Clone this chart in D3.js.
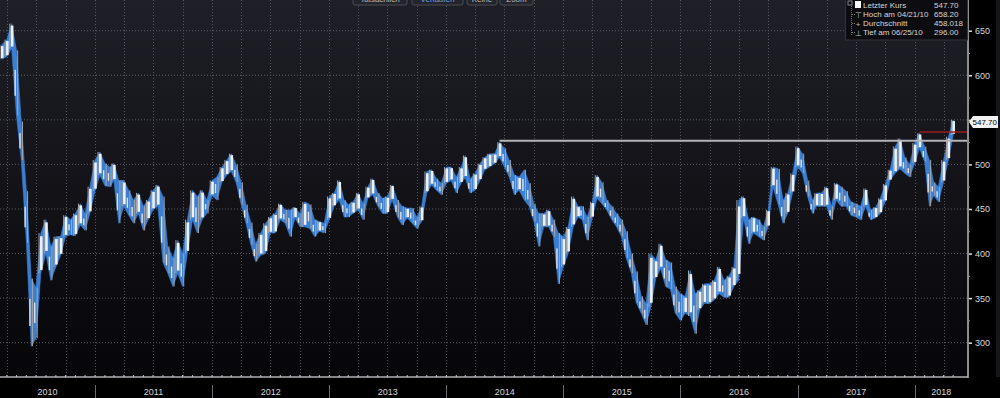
<!DOCTYPE html>
<html>
<head>
<meta charset="utf-8">
<script src="https://cdn.jsdelivr.net/npm/d3@7/dist/d3.min.js"></script>
<style>
  body { margin: 0; background: #000; }
  svg { display: block; font-family: "Liberation Sans", Arial, sans-serif; }
</style>
</head>
<body>
<script>
// half-monthly bars, first one = 16 Mar 2010 (index 5 of 2010)
let firstHalf = 5;

let highs = [
  634,640,658,628,548,470,372,362,423,438,408,419,419,443,438,445,456,445,475,
  505,514,501,497,501,482,482,471,460,468,453,460,471,477,464,408,395,415,400,438,471,464,471,460,
  482,486,497,505,512,500,480,455,435,411,423,434,441,445,456,449,449,452,445,458,455,438,436,434,
  464,468,482,460,455,458,468,456,475,484,468,462,464,477,460,453,451,451,441,453,492,494,484,479,
  497,497,486,497,510,484,490,501,508,512,512,525,518,505,488,486,494,479,456,445,445,449,438,423,
  419,430,464,453,453,441,458,488,480,460,453,445,438,425,400,380,352,344,400,393,411,393,390,363,
  355,352,381,355,359,366,366,370,385,370,375,385,460,464,438,441,438,430,449,497,495,460,468,490,
  520,512,482,460,468,468,475,453,479,475,470,458,456,453,473,449,452,462,478,494,520,529,508,500,
  524,535,520,505,480,475,505,531,550
];
let lows = [
  618,621,630,555,505,412,296,305,378,400,370,385,398,419,421,420,432,426,445,
  470,488,476,475,482,434,453,443,434,445,426,438,449,453,390,378,363,378,363,400,438,423,438,445,
  465,460,480,488,492,480,455,434,410,391,398,400,423,423,438,434,419,440,430,430,428,419,425,423,
  438,453,460,441,441,445,449,438,462,466,453,445,445,460,441,432,440,434,428,436,468,477,471,466,
  479,482,468,479,485,468,471,482,494,497,501,508,497,486,466,471,460,453,436,408,430,430,419,366,
  385,400,430,441,438,415,440,462,456,449,438,430,419,395,378,345,333,320,340,372,383,363,360,333,
  325,333,330,310,337,344,344,348,355,351,351,363,370,440,411,423,419,415,430,475,455,434,445,468,
  497,490,464,445,453,453,453,438,460,453,453,443,441,438,453,438,440,445,458,482,490,495,490,486,
  501,518,503,453,465,458,480,505,533
];

let yTicks = [300, 350, 400, 450, 500, 550, 600, 650];
let years = [2010, 2011, 2012, 2013, 2014, 2015, 2016, 2017, 2018];
let lastPrice = 547.70;
let level2014 = 526.6;   // grey resistance line
let level2018 = 536.4;   // red line
let legendRows = [
  ["Letzter Kurs", "547.70"],
  ["Hoch am 04/21/10", "658.20"],
  ["Durchschnitt", "458.018"],
  ["Tief am 06/25/10", "296.00"]
];
let buttons = ["Tatsächlich", "Verlaufen", "Keine", "Zoom"];

let W = 1000, H = 398, plotR = 968, plotB = 377;

let bars = highs.map(function(h, i) {
  let k = firstHalf + i;
  return {date: new Date(2010, Math.floor(k / 2), k % 2 ? 16 : 1), hi: h, lo: lows[i]};
});
bars.forEach(function(d, i) {
  let prev = i ? (bars[i-1].hi + bars[i-1].lo) / 2 : d.lo;
  d.up = (d.hi + d.lo) / 2 >= prev;
});

let x = d3.scaleTime()
  .domain([new Date(2010, 0, 1), new Date(2018, 0, 1)])
  .range([-22, 914.7]);
let y = d3.scaleLinear().domain([300, 650]).range([342.7, 30.7]);

let svg = d3.select("body").append("svg").attr("width", W).attr("height", H);

let defs = svg.append("defs");
let grad = defs.append("linearGradient").attr("id", "bg").attr("x1", 0).attr("y1", 0).attr("x2", 0).attr("y2", 1);
grad.append("stop").attr("offset", "0%").attr("stop-color", "#1f1f27");
grad.append("stop").attr("offset", "100%").attr("stop-color", "#060609");
defs.append("clipPath").attr("id", "clip").append("rect")
  .attr("x", 0).attr("y", 0).attr("width", plotR).attr("height", plotB);

svg.append("rect").attr("width", W).attr("height", H).attr("fill", "#000");
svg.append("rect").attr("width", plotR).attr("height", plotB).attr("fill", "url(#bg)");
// frame strip on the far right
svg.append("rect").attr("x", 996).attr("y", 0).attr("width", 4).attr("height", plotB).attr("fill", "#15151a");

// grid
svg.selectAll("line.hgrid")
  .data(yTicks)
  .enter().append("line")
    .attr("class", "hgrid")
    .attr("x1", 0).attr("x2", plotR)
    .attr("y1", function(d) { return y(d); })
    .attr("y2", function(d) { return y(d); })
    .attr("stroke", "#5c5c66").attr("stroke-dasharray", "1,2");

let quarters = d3.timeMonth.every(3).range(new Date(2010, 3, 1), new Date(2018, 4, 1));
svg.selectAll("line.vgrid")
  .data(quarters)
  .enter().append("line")
    .attr("class", "vgrid")
    .attr("x1", function(d) { return Math.round(x(d)) + 0.5; })
    .attr("x2", function(d) { return Math.round(x(d)) + 0.5; })
    .attr("y1", 0).attr("y2", plotB)
    .attr("stroke", "#55555f").attr("stroke-dasharray", "1,2");

// price band
let plot = svg.append("g").attr("clip-path", "url(#clip)");

let band = d3.area()
  .x(function(d) { return x(d.date); })
  .y0(function(d) { return y(d.lo); })
  .y1(function(d) { return y(d.hi); });
plot.append("path").datum(bars)
  .attr("d", band)
  .attr("fill", "#3a7fd2")
  .attr("stroke", "#3a7fd2").attr("stroke-width", 0.6);

// grey wicks on every bar, white bodies on rising bars
plot.selectAll("line.wick")
  .data(bars)
  .enter().append("line")
    .attr("class", "wick")
    .attr("x1", function(d) { return x(d.date) + (d.up ? -1.8 : 1.2); })
    .attr("x2", function(d) { return x(d.date) + (d.up ? -1.8 : 1.2); })
    .attr("y1", function(d) { return y(d.hi); })
    .attr("y2", function(d) { return y(d.lo); })
    .attr("stroke", "#a4a6ac").attr("stroke-width", 1);

plot.selectAll("rect.body")
  .data(bars.filter(function(d) { return d.up; }))
  .enter().append("rect")
    .attr("class", "body")
    .attr("x", function(d) { return x(d.date) - 0.8; })
    .attr("width", 2.6)
    .attr("y", function(d) { return y(d.hi) + (y(d.lo) - y(d.hi)) * 0.08; })
    .attr("height", function(d) { return Math.max(1, (y(d.lo) - y(d.hi)) * 0.84); })
    .attr("fill", "#eef0f2");

plot.selectAll("rect.dbody")
  .data(bars.filter(function(d) { return !d.up; }))
  .enter().append("rect")
    .attr("class", "dbody")
    .attr("x", function(d) { return x(d.date) - 2; })
    .attr("width", 1.4)
    .attr("y", function(d) { return y(d.hi) + (y(d.lo) - y(d.hi)) * 0.3; })
    .attr("height", function(d) { return Math.max(1, (y(d.lo) - y(d.hi)) * 0.4); })
    .attr("fill", "#dfe2e6");

// level lines
svg.append("line")
  .attr("x1", x(new Date(2014, 5, 16))).attr("x2", plotR)
  .attr("y1", y(level2014)).attr("y2", y(level2014))
  .attr("stroke", "#b4b4b8").attr("stroke-width", 2);
svg.append("line")
  .attr("x1", x(new Date(2018, 0, 16))).attr("x2", plotR)
  .attr("y1", y(level2018)).attr("y2", y(level2018))
  .attr("stroke", "#9a1c1c").attr("stroke-width", 1.5);

// right axis (the 550 label sits under the last-price tag)
let yAxis = svg.append("g").attr("transform", "translate(" + plotR + ",0)")
  .call(d3.axisRight(y).tickValues(yTicks).tickSize(4).tickPadding(3)
    .tickFormat(function(d) { return d === 550 ? "" : d; }));
yAxis.select(".domain").remove();
yAxis.selectAll("line").attr("stroke", "#e0e0e0").attr("stroke-width", 1.5);
yAxis.selectAll("text").attr("fill", "#d8d8d8").style("font-size", "9px")
  .style("font-family", "Liberation Sans, Arial, sans-serif");
let yMinor = svg.append("g").attr("transform", "translate(" + plotR + ",0)")
  .call(d3.axisRight(y).tickValues([325, 375, 425, 475, 525, 575, 625]).tickSize(2).tickFormat(""));
yMinor.select(".domain").remove();
yMinor.selectAll("line").attr("stroke", "#9a9a9a");

svg.append("line").attr("x1", plotR).attr("x2", plotR).attr("y1", 0).attr("y2", plotB + 1)
  .attr("stroke", "#8c8c90").attr("stroke-width", 2);
svg.append("line").attr("x1", 0).attr("x2", plotR).attr("y1", plotB).attr("y2", plotB)
  .attr("stroke", "#b0b0b4").attr("stroke-width", 1.5);

// bottom axis: month ticks, year separators, year labels
let months = d3.timeMonth.range(new Date(2010, 2, 1), new Date(2018, 5, 1));
svg.selectAll("line.mtick")
  .data(months)
  .enter().append("line")
    .attr("class", "mtick")
    .attr("x1", function(d) { return x(d); })
    .attr("x2", function(d) { return x(d); })
    .attr("y1", plotB - 2).attr("y2", plotB)
    .attr("stroke", "#c0c0c0");

svg.selectAll("line.ysep")
  .data(years.slice(1))
  .enter().append("line")
    .attr("class", "ysep")
    .attr("x1", function(d) { return Math.round(x(new Date(d, 0, 1))) + 0.5; })
    .attr("x2", function(d) { return Math.round(x(new Date(d, 0, 1))) + 0.5; })
    .attr("y1", 385).attr("y2", H)
    .attr("stroke", "#6a6a70");

svg.selectAll("text.year")
  .data(years)
  .enter().append("text")
    .attr("class", "year")
    .attr("x", function(d) {
      let a = Math.max(0, x(new Date(d, 0, 1))), b = Math.min(plotR, x(new Date(d + 1, 0, 1)));
      return (a + b) / 2;
    })
    .attr("y", 395)
    .attr("text-anchor", "middle")
    .attr("fill", "#d4d4d4")
    .style("font-size", "9px")
    .text(function(d) { return d; });

// last price tag
let ty = y(lastPrice);
svg.append("path")
  .attr("d", "M969," + ty + " L973," + (ty - 6) + " L998," + (ty - 6) + " L998," + (ty + 6) + " L973," + (ty + 6) + " Z")
  .attr("fill", "#f2f2f2");
svg.append("text").attr("x", 972.5).attr("y", ty + 3).attr("fill", "#000")
  .style("font-size", "8px").text(lastPrice.toFixed(2));

// legend box
let lg = svg.append("g");
lg.append("rect").attr("x", 845.5).attr("y", -1).attr("width", 122).attr("height", 41)
  .attr("fill", "#0d0d11").attr("stroke", "#34343c");
lg.append("rect").attr("x", 848).attr("y", 1).attr("width", 4).attr("height", 4)
  .attr("fill", "none").attr("stroke", "#888");
lg.append("line").attr("x1", 851.5).attr("x2", 851.5).attr("y1", 6).attr("y2", 35)
  .attr("stroke", "#777").attr("stroke-dasharray", "1,1");
lg.selectAll("line.branch")
  .data(legendRows.slice(1))
  .enter().append("line")
    .attr("class", "branch")
    .attr("x1", 852).attr("x2", 855)
    .attr("y1", function(d, i) { return 14.5 + i * 9; })
    .attr("y2", function(d, i) { return 14.5 + i * 9; })
    .attr("stroke", "#777").attr("stroke-dasharray", "1,1");
lg.append("rect").attr("x", 855).attr("y", 1).attr("width", 6).attr("height", 7).attr("fill", "#fff");
let icons = ["⊤", "+", "⊥"];
lg.selectAll("text.icon")
  .data(icons)
  .enter().append("text")
    .attr("class", "icon")
    .attr("x", 858).attr("y", function(d, i) { return 17.5 + i * 9; })
    .attr("text-anchor", "middle").attr("fill", "#bbb")
    .style("font-size", "8px").text(function(d) { return d; });
lg.selectAll("text.lab")
  .data(legendRows)
  .enter().append("text")
    .attr("class", "lab")
    .attr("x", 863).attr("y", function(d, i) { return 7.5 + i * 9; })
    .attr("fill", "#d6d6d6").style("font-size", "8px")
    .text(function(d) { return d[0]; });
lg.selectAll("text.val")
  .data(legendRows)
  .enter().append("text")
    .attr("class", "val")
    .attr("x", 934).attr("y", function(d, i) { return 7.5 + i * 9; })
    .attr("fill", "#d6d6d6").style("font-size", "8px")
    .text(function(d) { return d[1]; });

// top buttons (mostly cut off)
let bx = [353, 412, 467, 500], bwid = [54, 51, 30, 33];
let bg = svg.selectAll("g.btn")
  .data(buttons)
  .enter().append("g").attr("class", "btn");
bg.append("rect")
  .attr("x", function(d, i) { return bx[i]; }).attr("y", -8)
  .attr("width", function(d, i) { return bwid[i]; }).attr("height", 13).attr("rx", 2)
  .attr("fill", "#24242c").attr("stroke", "#4a4a54");
bg.append("text")
  .attr("x", function(d, i) { return bx[i] + bwid[i] / 2; }).attr("y", 2)
  .attr("text-anchor", "middle")
  .attr("fill", function(d, i) { return i === 1 ? "#6aa0e0" : "#bbb"; })
  .style("font-size", "8px")
  .text(function(d) { return d; });
</script>
</body>
</html>
